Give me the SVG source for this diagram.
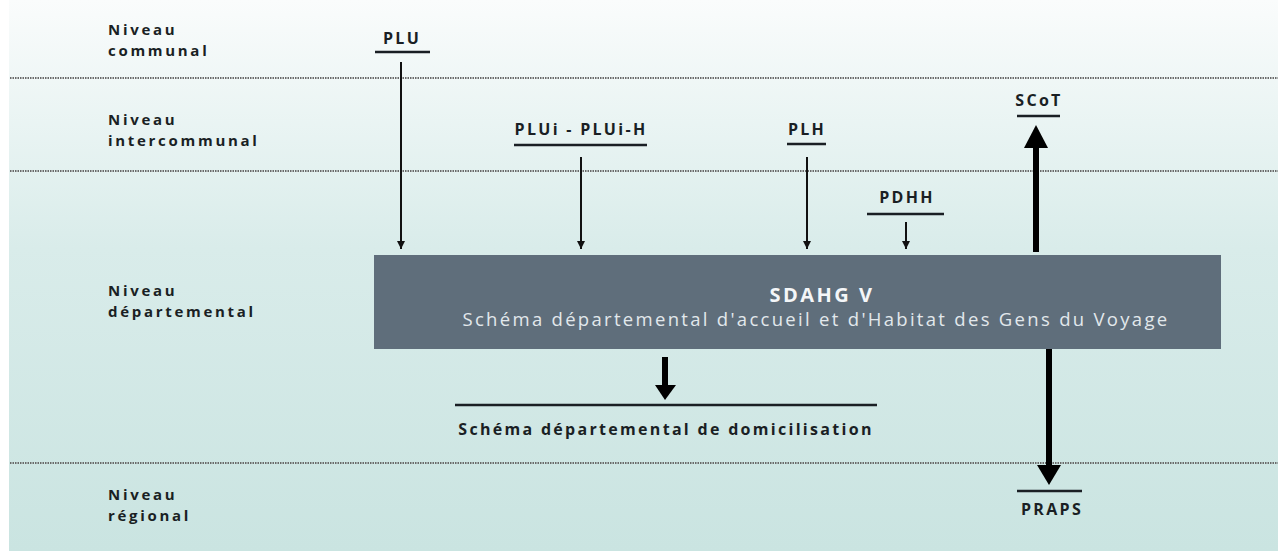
<svg xmlns="http://www.w3.org/2000/svg" width="1278" height="551" viewBox="0 0 1278 551">
<defs>
<linearGradient id="bg" x1="0" y1="0" x2="0" y2="1">
<stop offset="0" stop-color="#fafcfc"/>
<stop offset="0.45" stop-color="#d9ecea"/>
<stop offset="1" stop-color="#cae4e1"/>
</linearGradient>
<marker id="thin" viewBox="0 0 10 10" refX="10" refY="5" markerWidth="8" markerHeight="8" markerUnits="userSpaceOnUse" orient="auto">
<path d="M0,0 L10,5 L0,10 Z" fill="#111"/>
</marker>
</defs>
<style>
.lvl{font-family:"Open Sans","DejaVu Sans",sans-serif;font-weight:bold;font-size:15px;letter-spacing:2.7px;fill:#1a1f24}
.lbl{font-family:"Open Sans","DejaVu Sans",sans-serif;font-weight:bold;font-size:16px;letter-spacing:2.3px;fill:#1a1f24;text-anchor:middle}
.ul{stroke:#1a1f24;stroke-width:2.5}
.dot{stroke:#6a6a6a;stroke-width:2;stroke-dasharray:1.5 1}
.thin{stroke:#111;stroke-width:2;fill:none}
.thick{stroke:#000;stroke-width:6;fill:none}
.head{fill:#000}
</style>
<rect x="0" y="0" width="1278" height="551" fill="#ffffff"/>
<rect x="9" y="0" width="1269" height="551" fill="url(#bg)"/>
<g id="levels">
<line class="dot" x1="10" y1="78" x2="1278" y2="78"/>
<line class="dot" x1="10" y1="171" x2="1278" y2="171"/>
<line class="dot" x1="10" y1="463" x2="1278" y2="463"/>
<text class="lvl" x="108" y="35">Niveau</text>
<text class="lvl" x="108" y="56">communal</text>
<text class="lvl" x="108" y="125">Niveau</text>
<text class="lvl" x="108" y="146">intercommunal</text>
<text class="lvl" x="108" y="296">Niveau</text>
<text class="lvl" x="108" y="317">départemental</text>
<text class="lvl" x="108" y="500">Niveau</text>
<text class="lvl" x="108" y="521">régional</text>
</g>
<g id="sdahgv">
<rect x="374" y="255" width="847" height="94" fill="#5f6e7b"/>
<text x="822" y="302" text-anchor="middle" font-family="'Open Sans','DejaVu Sans',sans-serif" font-weight="bold" font-size="20" letter-spacing="2.5" fill="#f4f6f8">SDAHG V</text>
<text x="816" y="326" text-anchor="middle" font-family="'Open Sans','DejaVu Sans',sans-serif" font-size="18.5" letter-spacing="2.3" fill="#e2e8ec">Schéma départemental d'accueil et d'Habitat des Gens du Voyage</text>
</g>
<g id="plu">
<text class="lbl" x="402" y="44">PLU</text>
<line class="ul" x1="375" y1="52" x2="430" y2="52"/>
</g>
<g id="plui">
<text class="lbl" x="581" y="135">PLUi - PLUi-H</text>
<line class="ul" x1="514" y1="145" x2="647" y2="145"/>
</g>
<g id="plh">
<text class="lbl" x="807" y="135">PLH</text>
<line class="ul" x1="787" y1="144" x2="826" y2="144"/>
</g>
<g id="pdhh">
<text class="lbl" x="907" y="203">PDHH</text>
<line class="ul" x1="867" y1="214" x2="944" y2="214"/>
</g>
<g id="scot">
<text class="lbl" x="1039" y="106">SCoT</text>
<line class="ul" x1="1017" y1="116" x2="1060" y2="116"/>
</g>
<g id="praps">
<line class="ul" x1="1017" y1="491" x2="1082" y2="491"/>
<text class="lbl" x="1052" y="515">PRAPS</text>
</g>
<g id="domicilisation">
<line class="ul" x1="455" y1="405" x2="877" y2="405"/>
<text class="lbl" x="666" y="435">Schéma départemental de domicilisation</text>
</g>
<g id="connectors">
<line class="thin" x1="401" y1="62" x2="401" y2="249" marker-end="url(#thin)"/>
<line class="thin" x1="581" y1="157" x2="581" y2="249" marker-end="url(#thin)"/>
<line class="thin" x1="807" y1="157" x2="807" y2="249" marker-end="url(#thin)"/>
<line class="thin" x1="906" y1="222" x2="906" y2="249" marker-end="url(#thin)"/>
<line class="thick" x1="1036" y1="252" x2="1036" y2="145"/>
<path class="head" d="M1024,148 L1048,148 L1036,125 Z"/>
<line class="thick" x1="1049" y1="349" x2="1049" y2="467"/>
<path class="head" d="M1037,465 L1061,465 L1049,485 Z"/>
<line class="thick" x1="665" y1="357" x2="665" y2="387"/>
<path class="head" d="M655,385 L676,385 L665,400 Z"/>
</g>
</svg>
